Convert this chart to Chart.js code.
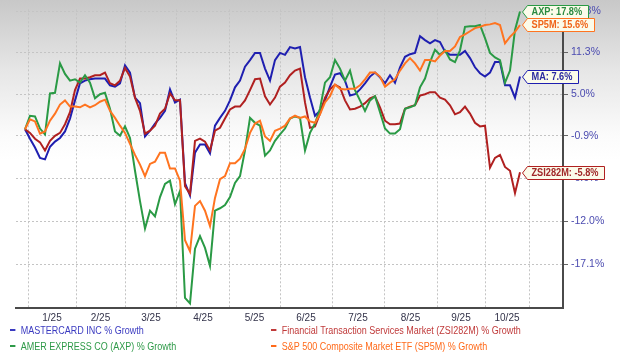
<!DOCTYPE html>
<html><head><meta charset="utf-8">
<script src="https://cdn.jsdelivr.net/npm/chart.js@4"></script>
<style>
html,body{margin:0;padding:0;}
body{width:620px;height:356px;overflow:hidden;background:linear-gradient(to bottom,#c8c8c8 0px,#e6e6e6 70px,#fbfbfb 135px,#ffffff 160px,#ffffff 356px);font-family:"Liberation Sans",Arial,sans-serif;}
#wrap{position:relative;width:620px;height:356px;}
#c{position:absolute;left:0;top:0;}
.leg{position:absolute;font-size:10px;line-height:12px;white-space:nowrap;transform:scaleX(0.9);transform-origin:left center;}
.leg i{display:inline-block;width:6px;height:2px;margin-right:6px;vertical-align:middle;position:relative;top:-1px;}
</style></head><body>
<div id="wrap"><canvas id="c" width="620" height="356"></canvas><div id="legend"></div></div>
<script>
// month labels and gridline positions (in sample-index units)
const monthLabels = ['1/25','2/25','3/25','4/25','5/25','6/25','7/25','8/25','9/25','10/25'];
const monthGrid = [0.6, 10.2, 20, 30.4, 40.8, 51, 61.4, 71.8, 82.4, 92, 100.8];
const yTickLabels = [17.8, 11.3, 5.0, -0.9, -6.6, -12.0, -17.1];

const seriesNames = ['MASTERCARD INC % Growth','Financial Transaction Services Market (ZSI282M) % Growth','AMER EXPRESS CO (AXP) % Growth','S&P 500 Composite Market ETF (SP5M) % Growth'];
const tagNames = ['MA','ZSI282M','AXP','SP5M'];

const ma = [0.0,-1.3,-2.5,-3.9,-4.1,-2.4,-1.7,-1.2,-0.3,1.5,
 4.1,6.6,7.0,7.2,7.3,7.3,7.3,6.3,6.1,6.6,
 9.3,8.2,4.5,3.7,-1.0,-0.2,0.8,1.6,2.6,5.7,
 3.8,4.2,-7.2,-8.8,-3.2,-2.1,-2.1,-3.3,0.5,1.6,
 2.6,4.1,6.0,7.0,9.1,10.1,11.2,11.2,8.8,7.0,
 10.1,11.2,10.9,12.1,11.9,12.1,7.5,4.5,1.9,2.6,
 4.1,6.1,7.9,8.1,7.0,4.8,5.0,5.7,6.6,7.6,
 8.2,7.5,6.6,7.8,6.7,9.0,10.6,11.0,11.2,13.8,
 13.2,12.7,13.2,12.9,11.4,10.9,10.9,10.9,11.5,10.4,
 9.0,8.1,7.6,8.2,9.8,9.8,6.3,6.3,4.5,7.6];

const zsi = [0.0,-0.5,-1.3,-1.8,-2.9,-1.6,-0.9,-0.5,0.7,2.4,
 5.6,7.3,7.3,7.5,7.8,7.8,8.2,6.6,6.3,7.0,
 8.9,7.6,4.5,2.6,-0.6,-0.2,0.5,2.2,2.9,5.1,
 4.1,4.1,-7.6,-8.6,-1.6,-1.3,-1.7,-2.9,-0.2,0.2,
 1.5,2.8,3.2,3.2,4.1,5.6,7.2,7.3,4.7,3.5,
 4.5,6.1,6.7,7.8,8.5,8.8,3.8,0.2,0.4,2.2,
 4.5,5.7,6.4,6.0,4.1,2.8,2.9,3.2,3.7,4.4,
 4.7,3.1,1.2,0.7,0.7,0.8,2.9,3.2,3.4,4.8,
 5.0,5.3,5.3,4.5,4.2,3.4,2.1,2.4,3.2,2.2,
 0.9,0.4,0.5,-5.2,-3.9,-3.5,-5.1,-5.6,-8.5,-5.8];

const axp = [0.0,1.9,1.8,0.1,-0.7,5.1,5.2,9.6,8.0,7.0,
 7.2,6.7,7.8,6.7,4.4,5.0,5.2,2.9,-0.3,-0.9,
 0.4,-1.2,-5.6,-9.5,-12.9,-10.7,-11.4,-9.0,-7.3,-6.9,
 -9.9,-8.2,-20.9,-21.5,-15.3,-13.8,-15.2,-17.3,-10.7,-10.4,
 -10.0,-9.0,-7.2,-6.3,-2.9,1.6,0.9,0.5,-3.6,-2.9,
 -1.6,-0.7,0.1,1.5,1.8,1.6,-2.9,-0.5,0.8,2.9,
 6.7,7.5,10.1,8.8,7.0,8.5,5.6,4.1,2.6,4.1,
 4.7,2.4,0.1,-0.6,-0.6,0.0,2.9,3.1,3.4,6.0,
 7.3,9.8,11.7,10.9,11.6,10.2,9.8,11.6,15.3,15.4,
 15.4,15.6,13.5,11.2,10.5,10.1,6.7,8.5,14.8,17.8];

const sp5m = [0.0,1.4,1.1,-0.6,-0.3,1.2,2.2,3.5,4.1,3.2,
 3.2,3.1,3.5,3.1,3.4,3.9,4.2,2.6,1.6,0.5,
 -0.5,-2.0,-3.5,-4.8,-6.3,-4.7,-4.4,-3.2,-3.2,-5.3,
 -5.3,-6.9,-14.3,-15.6,-10.1,-9.5,-10.7,-12.6,-9.1,-6.7,
 -6.3,-4.6,-4.6,-4.0,-2.7,-0.5,0.8,1.2,-1.0,-1.6,
 -0.2,0.1,0.5,1.5,1.9,1.6,1.8,1.1,0.9,2.1,
 3.8,4.7,6.4,5.8,5.7,5.8,5.8,6.3,7.2,8.2,
 8.2,7.6,6.1,6.7,7.2,8.5,9.6,10.4,9.6,8.5,
 10.1,10.1,9.9,10.8,11.5,11.5,12.2,13.7,14.1,14.6,
 15.1,15.3,15.6,15.7,15.9,15.6,12.7,13.7,14.5,15.6];

const seriesValues = [ma, zsi, axp, sp5m];
const lineColors = ['#1f1fb0','#b02020','#2a9a45','#ff7420'];
const tagColors = ['#2a2aa0','#a02828','#2a8a40','#f06418'];
const legendColors = ['#3a3ac0','#c03a3a','#2e9a48','#ff6a1a'];
const drawOrder = [4,3,2,1];

const labelPos = monthLabels.map((_,i)=> (monthGrid[i]+monthGrid[i+1])/2);

const datasets = seriesValues.map((vals,k)=>({
  label: seriesNames[k],
  data: vals.map((v,i)=>({x:i, y:100+v})),
  borderColor: lineColors[k],
  borderWidth: 2,
  pointRadius: 0,
  tension: 0,
  order: drawOrder[k],
  tag: tagNames[k] + ': ' + vals[vals.length-1].toFixed(1) + '%',
  tagColor: tagColors[k]
}));

const tagPlugin = {
  id:'tags',
  afterDatasetsDraw(chart){
    const ctx = chart.ctx;
    chart.data.datasets.forEach((ds,i)=>{
      const meta = chart.getDatasetMeta(i);
      const pt = meta.data[meta.data.length-1];
      ctx.save();
      ctx.font = 'bold 10px "Liberation Sans", Arial, sans-serif';
      const sx = 0.92;
      const tw = ctx.measureText(ds.tag).width*sx;
      const h = 13, ar = 5;
      const cy = Math.max(pt.y, 2 + h/2);
      const x0 = Math.round(pt.x) + 2.5, top = Math.round(cy - h/2) + 0.5, bot = top + h;
      const mid = (top+bot)/2;
      const right = Math.round(x0 + ar + tw + 10) + 0.5;
      ctx.beginPath();
      ctx.moveTo(x0, mid);
      ctx.lineTo(x0+ar, top);
      ctx.lineTo(right, top);
      ctx.lineTo(right, bot);
      ctx.lineTo(x0+ar, bot);
      ctx.closePath();
      ctx.fillStyle = '#fbfbea';
      ctx.fill();
      ctx.lineWidth = 1;
      ctx.strokeStyle = ds.borderColor;
      ctx.stroke();
      ctx.fillStyle = ds.tagColor;
      ctx.textBaseline = 'middle';
      ctx.translate(x0 + ar + 4, mid + 0.5);
      ctx.scale(sx, 1);
      ctx.fillText(ds.tag, 0, 0);
      ctx.restore();
    });
  }
};

new Chart(document.getElementById('c'), {
  type: 'line',
  data: { datasets },
  plugins: [tagPlugin],
  options: {
    responsive: false,
    animation: false,
    events: [],
    layout: { padding: { left: 16, right: 0, top: 8, bottom: 28 } },
    plugins: { legend: { display: false }, tooltip: { enabled: false } },
    scales: {
      x: {
        type: 'linear',
        min: -1.8, max: 107.6,
        afterBuildTicks: (s)=>{ s.ticks = monthGrid.map(v=>({value:v})).concat(labelPos.map(v=>({value:v}))); },
        afterFit: (s)=>{ s.height = 20; },
        grid: {
          color: (c)=> (c.index < monthGrid.length ? '#c4c4c4' : 'rgba(0,0,0,0)'),
          lineWidth: 1,
          drawTicks: false
        },
        border: { display: true, color: '#4a4a4a', width: 2, dash: [2,2] },
        ticks: {
          autoSkip: false, maxRotation: 0, padding: 4,
          color: '#33334a',
          font: { family: '"Liberation Sans", Arial, sans-serif', size: 10 },
          callback: (v, i)=> (i >= monthGrid.length ? monthLabels[i - monthGrid.length] : '')
        }
      },
      y: {
        type: 'logarithmic',
        position: 'right',
        min: 78.0, max: 118.15,
        afterBuildTicks: (s)=>{ s.ticks = yTickLabels.map(v=>({value:100+v})); },
        afterFit: (s)=>{ s.width = 57; },
        grid: { color: '#c4c4c4', lineWidth: 1, drawTicks: true, tickLength: 5, tickColor: '#666', tickBorderDash: [] },
        border: { display: true, color: '#4a4a4a', width: 2, dash: [2,2] },
        ticks: {
          padding: 3,
          color: '#4b4bb0',
          font: { family: '"Liberation Sans", Arial, sans-serif', size: 10.5 },
          callback: (v, i)=> yTickLabels[i].toFixed(1) + '%'
        }
      }
    }
  }
});

// legend (two columns)
const legendPos = [[10,325],[271,325],[10,341],[271,341]];
const lg = document.getElementById('legend');
seriesNames.forEach((n,k)=>{
  const d = document.createElement('div');
  d.className = 'leg';
  d.style.left = legendPos[k][0] + 'px';
  d.style.top = legendPos[k][1] + 'px';
  d.style.color = legendColors[k];
  const i = document.createElement('i');
  i.style.background = legendColors[k];
  d.appendChild(i);
  d.appendChild(document.createTextNode(n));
  lg.appendChild(d);
});
</script>
</body></html>
